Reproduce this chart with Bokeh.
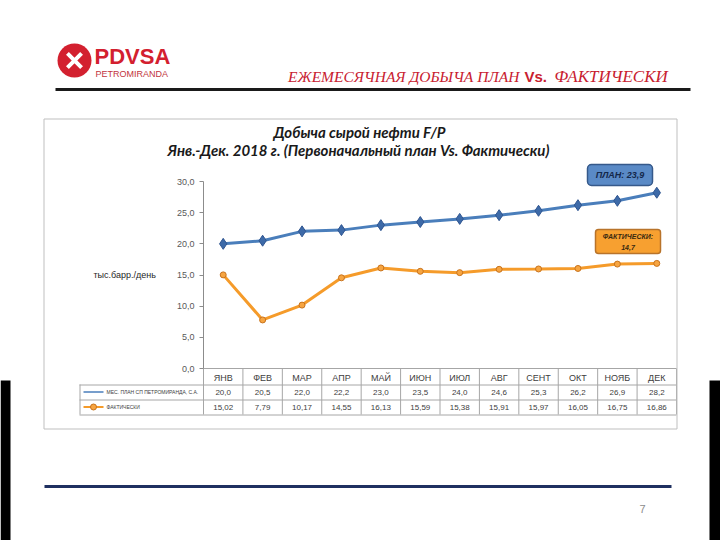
from bokeh.plotting import figure
from bokeh.models import (Label, BoxAnnotation, FixedTicker, CustomJSTickFormatter, Range1d,
                          LinearAxis)
from bokeh.embed import file_html
from bokeh.resources import INLINE

# ---------------- data ----------------
months = ["ЯНВ", "ФЕВ", "МАР", "АПР", "МАЙ", "ИЮН", "ИЮЛ", "АВГ", "СЕНТ", "ОКТ", "НОЯБ", "ДЕК"]
plan = [20.0, 20.5, 22.0, 22.2, 23.0, 23.5, 24.0, 24.6, 25.3, 26.2, 26.9, 28.2]
fact = [15.02, 7.79, 10.17, 14.55, 16.13, 15.59, 15.38, 15.91, 15.97, 16.05, 16.75, 16.86]
plan_labels = ["20,0", "20,5", "22,0", "22,2", "23,0", "23,5", "24,0", "24,6", "25,3", "26,2", "26,9", "28,2"]
fact_labels = ["15,02", "7,79", "10,17", "14,55", "16,13", "15,59", "15,38", "15,91", "15,97", "16,05", "16,75", "16,86"]
y_ticks = [0, 5, 10, 15, 20, 25, 30]
plan_avg_text = "ПЛАН: 23,9"
fact_avg_text = ["ФАКТИЧЕСКИ:", "14,7"]
series_names = ["МЕС. ПЛАН СП ПЕТРОМИРАНДА, С.А.", "ФАКТИЧЕСКИ"]

idx = list(range(len(months)))

# ---------------- layout (page pixels) ----------------
W, H = 720, 540
FL, FR, FT, FB = 203, 676, 181, 368  # chart plotting area
YMIN, YMAX = 0, 30
col_w = (FR - FL) / len(months)


def px_to_idx(px):
    return (px - FL) / col_w - 0.5


def py_to_val(py):
    return YMIN + (FB - py) / (FB - FT) * (YMAX - YMIN)


p = figure(width=W, height=H, x_range=Range1d(0, W), y_range=Range1d(H, 0),
           x_axis_location=None, y_axis_location=None, min_border=0,
           output_backend="svg", toolbar_location=None, title=None)
p.outline_line_color = None
p.grid.visible = False
p.background_fill_color = "white"
p.border_fill_color = "white"
p.extra_x_ranges = {"m": Range1d(px_to_idx(0), px_to_idx(W))}
p.extra_y_ranges = {"v": Range1d(py_to_val(H), py_to_val(0))}


def box(x0, y0, x1, y1, fill=None, line=None, lw=1, radius=0):
    b = BoxAnnotation(left=x0, right=x1, top=y0, bottom=y1,
                      fill_color=fill if fill else "white", fill_alpha=1 if fill else 0,
                      line_color=line if line else "white", line_alpha=1 if line else 0,
                      line_width=lw, border_radius=radius)
    p.add_layout(b)


def lab(x, y, text, size, color, font="Liberation Sans", style="normal", align="center", baseline="middle"):
    p.add_layout(Label(x=x, y=y, text=text,
                       text_font_size=f"{size}px", text_color=color, text_font=font,
                       text_font_style=style, text_align=align, text_baseline=baseline))


GRID = "#a6a6a6"

# ---------------- chart box ----------------
box(43.5, 118.5, 676.5, 428.5, line="#bfbfbf", lw=1)

# ---------------- table grid ----------------
R1, R2, R3 = 384, 399, 414
vx = [FL + i * col_w for i in range(len(months) + 1)]
p.segment(x0=vx, y0=[FB] * len(vx), x1=vx, y1=[R3] * len(vx), line_color=GRID, line_width=1)
p.segment(x0=[79] * 3, y0=[R1 + 0.5, R2 + 0.5, R3 + 0.5], x1=[FR] * 3, y1=[R1 + 0.5, R2 + 0.5, R3 + 0.5],
          line_color=GRID, line_width=1)
p.segment(x0=[79.5], y0=[R1], x1=[79.5], y1=[R3], line_color=GRID, line_width=1)
for i in idx:
    cx = FL + (i + 0.5) * col_w
    lab(cx, (R1 + R2) / 2 + 0.5, plan_labels[i], 8, "#404040")
    lab(cx, (R2 + R3) / 2 + 0.5, fact_labels[i], 8, "#404040")

# legend samples in table
p.segment(x0=[83], y0=[391.5], x1=[103], y1=[391.5], line_color="#4a7ebb", line_width=1.5)
lab(106, 391.5, series_names[0], 5, "#404040", align="left")
p.segment(x0=[83], y0=[406.5], x1=[103], y1=[406.5], line_color="#f59b2a", line_width=2)
p.scatter(x=[93], y=[406.5], marker="circle", size=6, fill_color="#f7a541", line_color="#c8731d")
lab(106, 406.5, series_names[1], 5, "#404040", align="left")

# ---------------- series ----------------
p.line(idx, plan, line_color="#4a7ebb", line_width=3, x_range_name="m", y_range_name="v")
p.scatter(idx, plan, marker="diamond", size=11, fill_color="#3d6aa8", line_color="#2f5590",
          x_range_name="m", y_range_name="v")
p.line(idx, fact, line_color="#f59b2a", line_width=3, x_range_name="m", y_range_name="v")
p.scatter(idx, fact, marker="circle", size=6, fill_color="#f7a541", line_color="#c8731d",
          x_range_name="m", y_range_name="v")

# ---------------- axes ----------------
yax = LinearAxis(y_range_name="v", fixed_location=FL, bounds=(YMIN, YMAX),
                 ticker=FixedTicker(ticks=y_ticks),
                 formatter=CustomJSTickFormatter(code="return tick.toFixed(1).replace('.', ',');"))
yax.major_label_text_font = "Liberation Sans"
yax.major_label_text_font_size = "9px"
yax.major_label_text_color = "#595959"
yax.axis_line_color = "#8c8c8c"
yax.major_tick_line_color = "#8c8c8c"
yax.major_tick_out = 4
yax.major_tick_in = 0
yax.minor_tick_line_color = None
yax.axis_label = "тыс.барр./день"
yax.axis_label_orientation = "horizontal"
yax.axis_label_text_font = "Liberation Sans"
yax.axis_label_text_font_style = "normal"
yax.axis_label_text_font_size = "9px"
yax.axis_label_text_color = "#262626"
yax.axis_label_standoff = 18
p.add_layout(yax, "left")

xax = LinearAxis(x_range_name="m", fixed_location=FB, bounds=(-0.5, len(months) - 0.5),
                 ticker=FixedTicker(ticks=idx),
                 major_label_overrides={i: m for i, m in zip(idx, months)})
xax.major_label_text_font = "Liberation Sans"
xax.major_label_text_font_size = "9px"
xax.major_label_text_color = "#404040"
xax.major_tick_line_color = None
xax.minor_tick_line_color = None
xax.major_tick_out = 0
xax.axis_line_color = GRID
xax.major_label_standoff = 4
p.add_layout(xax, "below")

# ---------------- titles ----------------
lab(359, 131, "Добыча сырой нефти F/P", 15, "#1a1a1a", font="Lato", style="bold italic")
lab(358, 149, "Янв.-Дек. 2018 г. (Первоначальный план Vs. Фактически)", 15, "#1a1a1a",
    font="Lato", style="bold italic")

# callouts
box(587, 164, 652, 185, fill="#5a8ac6", line="#36598a", lw=1.5, radius=4)
lab(619.5, 174.5, plan_avg_text, 9, "#14284b", style="bold italic")
box(595, 229, 660, 253, fill="#f7a030", line="#b8732a", lw=1.5, radius=3)
lab(627.5, 235.5, fact_avg_text[0], 7, "#3a2a10", style="bold italic")
lab(627.5, 246.5, fact_avg_text[1], 7, "#3a2a10", style="bold italic")

# ---------------- slide header ----------------
p.scatter(x=[74], y=[60], marker="circle", size=34, fill_color="#d3202f", line_color=None)
p.scatter(x=[74], y=[60], marker="x", size=20, line_color="white", line_width=4)
lab(94, 56, "PDVSA", 22, "#d3202f", style="bold", align="left")
lab(95, 73.5, "PETROMIRANDA", 9, "#c2343d", align="left")

HC = "#c8202f"
lab(519, 75.5, "ЕЖЕМЕСЯЧНАЯ ДОБЫЧА ПЛАН", 15.5, HC, font="Liberation Serif", style="italic", align="right")
lab(524, 75.5, "Vs.", 15, HC, font="Liberation Sans", style="bold", align="left")
lab(554, 75.5, "ФАКТИЧЕСКИ", 17, HC, font="Liberation Serif", style="italic", align="left")
box(55, 87.5, 690, 90.5, fill="#1a1a1a")

# footer
box(44, 484.5, 671, 487.5, fill="#1f3060")
lab(642, 508, "7", 11, "#8c8c8c")

# dark slide edges visible at the bottom of the picture
box(0, 380, 10, 540, fill="#000000")
box(709, 380, 720, 540, fill="#000000")

open("out.html", "w").write(file_html(p, INLINE))
